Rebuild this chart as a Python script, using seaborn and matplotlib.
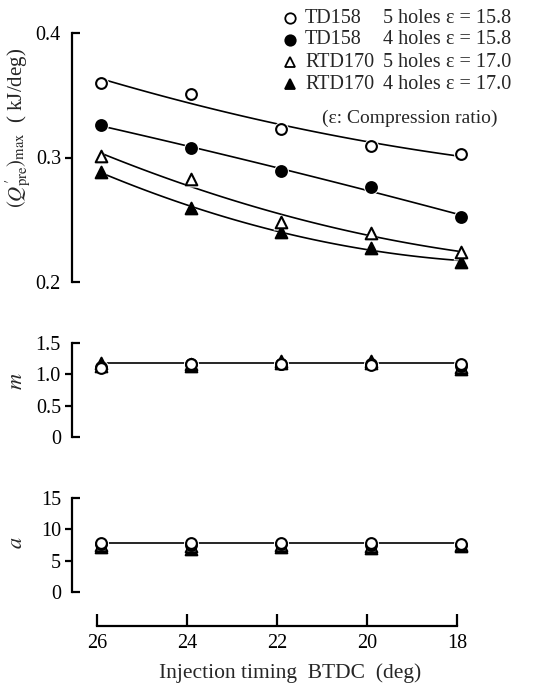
import numpy as np
import pandas as pd
import matplotlib
matplotlib.use("Agg")
import matplotlib.pyplot as plt
import seaborn as sns

# ---------------- data ----------------
timing = [26, 24, 22, 20, 18]

q_td158_5 = [0.360, 0.351, 0.323, 0.309, 0.303]
q_td158_4 = [0.326, 0.308, 0.289, 0.276, 0.2525]
q_rtd170_5 = [0.3015, 0.2825, 0.2485, 0.239, 0.2244]
q_rtd170_4 = [0.2886, 0.2592, 0.240, 0.2271, 0.2164]

m_td158_5 = [1.10, 1.17, 1.16, 1.15, 1.16]
m_td158_4 = [1.12, 1.16, 1.17, 1.16, 1.14]
m_rtd170_5 = [1.14, 1.16, 1.19, 1.18, 1.12]
m_rtd170_4 = [1.19, 1.14, 1.22, 1.22, 1.08]
m_fit = 1.18

a_td158_5 = [7.8, 7.8, 7.8, 7.8, 7.7]
a_td158_4 = [7.6, 7.5, 7.6, 7.5, 7.5]
a_rtd170_5 = [7.5, 7.3, 7.5, 7.3, 7.5]
a_rtd170_4 = [7.2, 6.8, 7.2, 7.0, 7.3]
a_fit = 7.8

legend_engine = ["TD158", "TD158", "RTD170", "RTD170"]
legend_holes = ["5 holes", "4 holes", "5 holes", "4 holes"]
legend_eps = ["ε = 15.8", "ε = 15.8", "ε = 17.0", "ε = 17.0"]

q_ticks_end = [0.2, 0.4]
q_ticks_mid = [0.3]
m_ticks_end = [0, 1.5]
m_ticks_mid = [0.5, 1.0]
a_ticks_end = [0, 15]
a_ticks_mid = [5, 10]

# ---------------- style ----------------
sns.set_theme(style="ticks")
plt.rcParams["font.family"] = ["Liberation Serif", "DejaVu Serif"]
plt.rcParams["mathtext.fontset"] = "stix"

styles = [  # marker, facecolor
    ("o", "white"),
    ("o", "black"),
    ("^", "white"),
    ("^", "black"),
]
draw_order = [3, 2, 1, 0]  # triangles first, circles on top

W, H = 548, 685
fig = plt.figure(figsize=(W / 100, H / 100), dpi=100)

def fx(px):
    return px / W

def fy(py):
    return 1 - py / H

xl = (26 + (101 - 72) / 45.0, 18 - (480 - 461) / 45.0)
left, right = fx(72), fx(480)

ax_q = fig.add_axes([left, fy(282), right - left, (282 - 33) / H])
ax_m = fig.add_axes([left, fy(436.7), right - left, (436.7 - 343.3) / H])
ax_a = fig.add_axes([left, fy(591.7), right - left, (591.7 - 498.3) / H])
ax_x = fig.add_axes([left, fy(626), right - left, 0.02])

lw_sp = 1.6
tick_fs = 14.5

def draw_markers(ax, data):
    for i in draw_order:
        mk, fc = styles[i]
        s = 60 if mk == "o" else 70
        sns.scatterplot(x=timing, y=data[i], marker=mk, s=s * 1.9, color="white",
                        edgecolor="white", linewidth=0, zorder=3, ax=ax, clip_on=False)
    for i in draw_order:
        mk, fc = styles[i]
        s = 60 if mk == "o" else 70
        sns.scatterplot(x=timing, y=data[i], marker=mk, s=s, color=fc,
                        edgecolor="black", linewidth=1.5, zorder=4, ax=ax, clip_on=False)

def style_y(ax, ends, mids, lim, fmt):
    ax.set_ylim(*lim)
    ax.set_xlim(*xl)
    for sp in ["top", "right", "bottom"]:
        ax.spines[sp].set_visible(False)
    ax.spines["left"].set_linewidth(lw_sp)
    ax.spines["left"].set_color("black")
    ax.set_yticks(ends)
    ax.set_yticklabels([fmt(v) for v in ends])
    ax.set_yticks(mids, minor=True)
    ax.set_yticklabels([fmt(v) for v in mids], minor=True)
    ax.tick_params(axis="y", which="major", left=True, direction="in", length=6,
                   width=lw_sp, labelsize=tick_fs, pad=8, colors="black")
    ax.tick_params(axis="y", which="minor", left=True, direction="out", length=5,
                   width=lw_sp, labelsize=tick_fs, pad=3, colors="black")
    ax.set_xticks([])
    ax.set_xlabel("")
    ax.set_ylabel("")
    ax.patch.set_alpha(0)

# ---- top panel ----
q_data = [q_td158_5, q_td158_4, q_rtd170_5, q_rtd170_4]
for vals in q_data:
    sns.regplot(x=np.array(timing, float), y=np.array(vals), order=2, ci=None,
                scatter=False, truncate=True, ax=ax_q,
                line_kws=dict(color="black", lw=1.2, zorder=2))
draw_markers(ax_q, q_data)
style_y(ax_q, q_ticks_end, q_ticks_mid, (0.2, 0.4), lambda v: f"{v:.1f}")

# ---- m panel ----
m_data = [m_td158_5, m_td158_4, m_rtd170_5, m_rtd170_4]
sns.lineplot(x=[timing[0], timing[-1]], y=[m_fit, m_fit], color="black", lw=1.2, ax=ax_m, zorder=2)
draw_markers(ax_m, m_data)
style_y(ax_m, m_ticks_end, m_ticks_mid, (0, 1.5),
        lambda v: "0" if v == 0 else f"{v:.1f}")

# ---- a panel ----
a_data = [a_td158_5, a_td158_4, a_rtd170_5, a_rtd170_4]
sns.lineplot(x=[timing[0], timing[-1]], y=[a_fit, a_fit], color="black", lw=1.2, ax=ax_a, zorder=2)
draw_markers(ax_a, a_data)
style_y(ax_a, a_ticks_end, a_ticks_mid, (0, 15), lambda v: f"{v:d}")

# ---- x axis ----
ax_x.set_xlim(*xl)
ax_x.set_ylim(0, 1)
for sp in ["top", "right", "left"]:
    ax_x.spines[sp].set_visible(False)
ax_x.spines["bottom"].set_linewidth(lw_sp)
ax_x.spines["bottom"].set_color("black")
ax_x.spines["bottom"].set_bounds(timing[0] + 0.08, timing[-1] + 0.08)
ax_x.set_xticks([t + 0.08 for t in timing])
ax_x.set_xticklabels([str(t) for t in timing])
ax_x.set_yticks([])
ax_x.tick_params(axis="x", bottom=True, direction="in", length=9, width=lw_sp,
                 labelsize=tick_fs, pad=6, colors="black")
ax_x.patch.set_alpha(0)

fig.text(fx(290), fy(673), "Injection timing  BTDC  (deg)", ha="center", va="center",
         fontsize=15.5)

# ---- y labels ----
fig.text(fx(18), fy(128), r"$(Q^{\prime}_{\mathrm{pre}})_{\mathrm{max}}$  ( kJ/deg)",
         rotation=90, ha="center", va="center", fontsize=15)
fig.text(fx(18), fy(381), r"$m$", rotation=90, ha="center", va="center", fontsize=16)
fig.text(fx(18), fy(543), r"$a$", rotation=90, ha="center", va="center", fontsize=16)

# ---- legend (manual) ----
rows_y = [18.3, 40, 62.3, 84.3]
for i in range(4):
    mk, fc = styles[i]
    fig.lines.append(matplotlib.lines.Line2D([fx(290)], [fy(rows_y[i])], marker=mk,
                     markersize=7.5, markerfacecolor=fc,
                     markeredgecolor="black", markeredgewidth=1.3, linestyle="none",
                     transform=fig.transFigure, figure=fig))
    fig.text(fx(305), fy(rows_y[i]), legend_engine[i], ha="left", va="center", fontsize=14.5)
    fig.text(fx(383), fy(rows_y[i]), legend_holes[i], ha="left", va="center", fontsize=14.5)
    fig.text(fx(446), fy(rows_y[i]), legend_eps[i], ha="left", va="center", fontsize=14.5)
fig.text(fx(322), fy(118), "(ε: Compression ratio)", ha="left", va="center", fontsize=14)

fig.savefig("out.png", dpi=100)
